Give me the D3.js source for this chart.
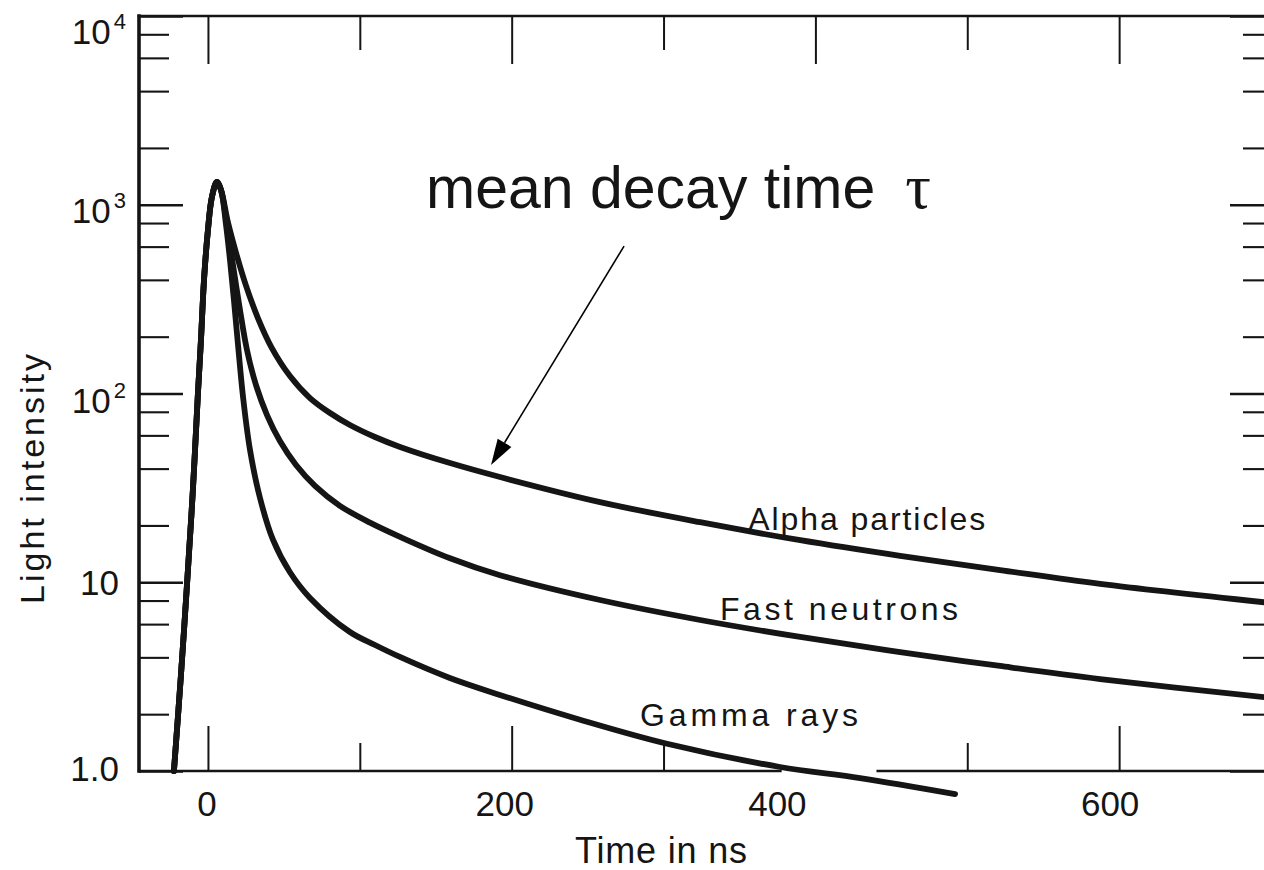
<!DOCTYPE html>
<html>
<head>
<meta charset="utf-8">
<script src="https://cdn.jsdelivr.net/npm/d3@7"></script>
<style>
  html, body { margin: 0; padding: 0; background: #fff; overflow: hidden; }
  svg { display: block; }
  text { font-family: "Liberation Sans", Arial, Helvetica, sans-serif; fill: #151515; }
</style>
</head>
<body>
<svg id="chart" width="1264" height="870"></svg>
<script>
// Scintillation pulse shapes: light intensity (log) versus time in ns
// for alpha particles, fast neutrons and gamma rays.

// common leading edge of the pulse (time in ns, intensity)
const riseTime      = [-22.4, -17.8, -13.8, -9.9, -6.6, -4.6, -2.6, 0, 2.6, 5.9];
const riseIntensity = [1.0, 3.2, 9.7, 31, 100, 192, 399, 735, 1099, 1320];

// decay tails
const alphaTime      = [8.6, 13.2, 18.4, 25.0, 32.9, 42.1, 54.0, 67.2, 80.4, 93.5, 110.0, 126.5, 159.4, 192.3, 258.2, 324.1, 390, 455.8, 521.6, 587.5, 700];
const alphaIntensity = [1197, 805, 560, 374, 251, 174, 123.8, 94.6, 78.8, 68.1, 58.8, 52.1, 42.8, 36.1, 26.6, 20.8, 16.7, 13.8, 11.6, 9.8, 7.76];

const neutronTime      = [8.6, 12.5, 16.5, 21.1, 25.7, 31.6, 38.9, 47.4, 58.0, 70.5, 86.9, 106.7, 126.5, 159.4, 192.3, 258.2, 324.1, 390, 455.8, 521.6, 587.5, 700];
const neutronIntensity = [1197, 782, 480, 277, 170, 111, 76.9, 56.0, 41.8, 32.4, 25.4, 20.7, 17.4, 13.4, 10.9, 8.05, 6.31, 5.13, 4.27, 3.60, 3.07, 2.44];

const gammaTime      = [8.6, 11.9, 14.5, 17.1, 19.8, 23.1, 27.7, 34.3, 42.8, 54.0, 67.2, 93.5, 110.0, 126.4, 159.3, 192.2, 245, 303, 376.7, 429.4, 492];
const gammaIntensity = [1197, 782, 511, 313, 181, 96, 50.2, 27.9, 16.8, 11.3, 8.26, 5.45, 4.65, 4.02, 3.11, 2.53, 1.87, 1.39, 1.05, 0.918, 0.755];

// axis ticks and labels
const xMajorTicks = [0, 200, 400, 600];
const xMinorTicks = [100, 300, 500];
const xTickLabels = ["0", "200", "400", "600"];
const yMajorTicks = [1, 10, 100, 1000, 10000];
const yMinorTicks = [2, 4, 6, 8, 20, 40, 60, 80, 200, 400, 600, 800, 2000, 4000, 6000, 8000];
const yTickLabels = [
  { base: "1.0", sup: "" },
  { base: "10", sup: "" },
  { base: "10", sup: "2" },
  { base: "10", sup: "3" },
  { base: "10", sup: "4" }
];

// stretch of the lower frame line left open where the gamma tail crosses it
const bottomGap = [377, 441];

// curve labels: [text, time, intensity at baseline]
const curveLabels = [
  ["Alpha particles", 355.7, 18.9],
  ["Fast neutrons", 337.2, 6.31],
  ["Gamma rays", 284.5, 1.73]
];

// annotation arrow: text anchor, arrow start, arrow tip (time, intensity)
const noteText = ["mean decay time", "\u03c4"];
const noteAnchor = [143.6, 961];
const arrowFrom = [274, 604];
const arrowTo = [186.4, 41.8];

// ---------------------------------------------------------------
const svg = d3.select("#chart");
const ink = "#151515";

const x = d3.scaleLinear().domain([-45.4, 700]).range([139, 1271]);
const y = d3.scaleLog().domain([1, 10000]).range([771, 16]);

const [xL, xR] = x.range();
const [yB, yT] = y.range();

function ticks(axisFn, scale, values, size, width, pos) {
  const g = svg.append("g")
    .attr("transform", pos)
    .call(axisFn(scale).tickValues(values).tickSizeInner(size).tickSizeOuter(0).tickFormat(""));
  g.select(".domain").remove();
  g.selectAll(".tick line").attr("stroke", ink).attr("stroke-width", width);
  return g;
}

// y ticks, left and right frame
ticks(d3.axisLeft, y, yMajorTicks, -44, 2.4, `translate(${xL},0)`);
ticks(d3.axisLeft, y, yMinorTicks, -30, 2.1, `translate(${xL},0)`);
ticks(d3.axisRight, y, yMajorTicks, -41, 2.4, `translate(${xR},0)`);
ticks(d3.axisRight, y, yMinorTicks, -28, 2.1, `translate(${xR},0)`);

// x ticks, top and bottom frame (the 400 tick on the bottom falls into the gap)
const outsideGap = v => v < bottomGap[0] || v > bottomGap[1];
ticks(d3.axisTop, x, xMajorTicks, -48, 2.0, `translate(0,${yT})`);
ticks(d3.axisTop, x, xMinorTicks, -34, 2.0, `translate(0,${yT})`);
ticks(d3.axisBottom, x, xMajorTicks.filter(outsideGap), -45, 2.0, `translate(0,${yB})`);
ticks(d3.axisBottom, x, xMinorTicks.filter(outsideGap), -28, 2.0, `translate(0,${yB})`);

// frame lines
const frame = svg.append("g").attr("stroke", ink).attr("stroke-linecap", "square");
frame.append("line").attr("x1", xL).attr("x2", xL).attr("y1", yT).attr("y2", yB).attr("stroke-width", 3.6);
frame.append("line").attr("x1", xL).attr("x2", xR).attr("y1", yT).attr("y2", yT).attr("stroke-width", 2.6);
frame.append("line").attr("x1", xL).attr("x2", x(bottomGap[0])).attr("y1", yB).attr("y2", yB).attr("stroke-width", 2.4);
frame.append("line").attr("x1", x(bottomGap[1])).attr("x2", xR).attr("y1", yB).attr("y2", yB).attr("stroke-width", 2.4);

// y tick labels
const yLabelNudge = { 1: 10, 10: 13, 100: 19, 1000: 18, 10000: 28 };
yMajorTicks.forEach((v, i) => {
  const lab = yTickLabels[i];
  const t = svg.append("text")
    .attr("x", lab.sup ? 126 : 119)
    .attr("y", y(v) + yLabelNudge[v])
    .attr("text-anchor", "end")
    .attr("font-size", 35);
  t.append("tspan").text(lab.base);
  if (lab.sup) {
    t.append("tspan").attr("dx", 3).attr("dy", -15).attr("font-size", 22).text(lab.sup);
  }
});

// x tick labels
const xLabelNudge = { 0: -1, 200: -7, 400: -38, 600: -9 };
xMajorTicks.forEach((v, i) => {
  svg.append("text")
    .attr("x", x(v) + xLabelNudge[v])
    .attr("y", 816)
    .attr("text-anchor", "middle")
    .attr("font-size", 35)
    .text(xTickLabels[i]);
});

// axis titles
svg.append("text")
  .attr("x", 575).attr("y", 863)
  .attr("font-size", 36)
  .attr("textLength", 172).attr("lengthAdjust", "spacing")
  .text("Time in ns");

svg.append("text")
  .attr("transform", "translate(44,479) rotate(-90)")
  .attr("text-anchor", "middle")
  .attr("font-size", 34)
  .attr("textLength", 250).attr("lengthAdjust", "spacing")
  .text("Light intensity");

// pulse curves
const line = d3.line()
  .x(d => x(d[0]))
  .y(d => y(d[1]))
  .curve(d3.curveCatmullRom.alpha(0.5));

const rise = riseTime.map((t, i) => [t, riseIntensity[i]]);
const series = [
  [alphaTime, alphaIntensity],
  [neutronTime, neutronIntensity],
  [gammaTime, gammaIntensity]
].map(([ts, vs]) => rise.concat(ts.map((t, i) => [t, vs[i]])));

svg.append("g")
  .selectAll("path")
  .data(series)
  .join("path")
  .attr("d", line)
  .attr("fill", "none")
  .attr("stroke", ink)
  .attr("stroke-width", 5.8)
  .attr("stroke-linecap", "round")
  .attr("stroke-linejoin", "round");

// curve labels
const labelWidths = { "Alpha particles": 237, "Fast neutrons": 238, "Gamma rays": 218 };
svg.append("g")
  .selectAll("text")
  .data(curveLabels)
  .join("text")
  .attr("x", d => x(d[1]))
  .attr("y", d => y(d[2]))
  .attr("font-size", 32)
  .attr("textLength", d => labelWidths[d[0]])
  .attr("lengthAdjust", "spacing")
  .text(d => d[0]);

// annotation
const note = svg.append("text")
  .attr("x", x(noteAnchor[0]))
  .attr("y", y(noteAnchor[1]))
  .attr("font-size", 59)
  .attr("fill", "#000");
note.append("tspan").text(noteText[0]);
note.append("tspan").attr("dx", 30).attr("font-size", 64)
  .attr("font-family", "'Liberation Serif', 'DejaVu Serif', serif").text(noteText[1]);

const ax0 = x(arrowFrom[0]), ay0 = y(arrowFrom[1]);
const ax1 = x(arrowTo[0]), ay1 = y(arrowTo[1]);
const len = Math.hypot(ax0 - ax1, ay0 - ay1);
const ux = (ax0 - ax1) / len, uy = (ay0 - ay1) / len;
const headLen = 26, headHalf = 8;
const bx = ax1 + ux * headLen, by = ay1 + uy * headLen;

svg.append("line")
  .attr("x1", ax0).attr("y1", ay0)
  .attr("x2", bx).attr("y2", by)
  .attr("stroke", "#000").attr("stroke-width", 1.6);
svg.append("path")
  .attr("d", `M${ax1},${ay1}L${bx - uy * headHalf},${by + ux * headHalf}L${bx + uy * headHalf},${by - ux * headHalf}Z`)
  .attr("fill", "#000");
</script>
</body>
</html>
